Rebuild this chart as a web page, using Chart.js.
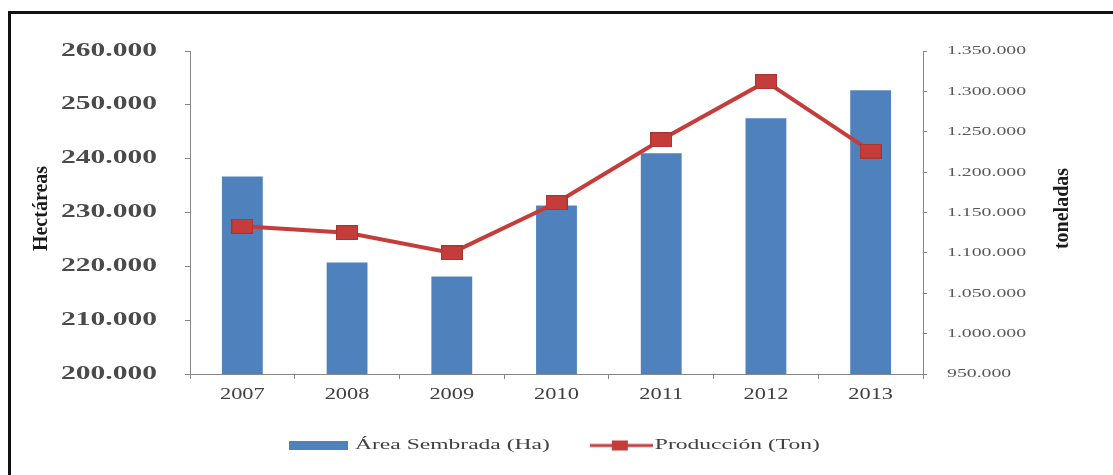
<!DOCTYPE html>
<html>
<head>
<meta charset="utf-8">
<script src="https://cdn.jsdelivr.net/npm/chart.js@4"></script>
<style>
	body { margin: 0; background: #fff; }
	#wrap { position: relative; width: 1113px; height: 475px; overflow: hidden; }
	#frame { position: absolute; left: 8px; top: 11px; width: 1200px; height: 600px;
		border-left: 3px solid #111; border-top: 3px solid #111; pointer-events: none; }
</style>
</head>
<body>
<div id="wrap">
	<canvas id="chart"></canvas>
	<div id="frame"></div>
</div>
<script>
const years = ['2007', '2008', '2009', '2010', '2011', '2012', '2013']
const areaHa = [236700, 220700, 218100, 231300, 241000, 247500, 252700]
const produccionTon = [1133000, 1125000, 1100000, 1162000, 1240000, 1312000, 1226000]
const areaTicks = ['200.000', '210.000', '220.000', '230.000', '240.000', '250.000', '260.000']
const tonTicks = ['950.000', '1.000.000', '1.050.000', '1.100.000', '1.150.000',
	'1.200.000', '1.250.000', '1.300.000', '1.350.000']

const BLUE = '#4f81bd'
const RED = '#c43d3a'
const AXIS = '#868686'
const SERIF = "'Liberation Serif', 'Times New Roman', serif"

// text in the reference is stretched sideways; factor by font size
const stretchBySize = { 18: 1.64, 13: 1.52, 16: 1.4, 15: 1.57 }

function stretchText(ctx) {
	const fill = ctx.fillText.bind(ctx)
	const measure = ctx.measureText.bind(ctx)
	const factor = () => {
		const m = /(\d+(?:\.\d+)?)px/.exec(ctx.font)
		return (m && stretchBySize[m[1]]) || 1
	}
	ctx.fillText = (text, x, y) => {
		const k = factor()
		if (k === 1) return fill(text, x, y)
		ctx.save()
		ctx.scale(k, 1)
		fill(text, x / k, y)
		ctx.restore()
	}
	ctx.measureText = text => {
		const m = measure(text)
		const k = factor()
		if (k === 1) return m
		return {
			width: m.width * k,
			actualBoundingBoxAscent: m.actualBoundingBoxAscent,
			actualBoundingBoxDescent: m.actualBoundingBoxDescent,
		}
	}
}

function swatch(w, h, paint) {
	const c = document.createElement('canvas')
	c.width = w
	c.height = h
	paint(c.getContext('2d'))
	return c
}
const marker = swatch(22, 15, ctx => {
	ctx.fillStyle = RED
	ctx.fillRect(0, 0, 22, 15)
	ctx.strokeStyle = '#a83330'
	ctx.strokeRect(0.5, 0.5, 21, 14)
})
const blueBox = swatch(61, 9, ctx => { ctx.fillStyle = BLUE; ctx.fillRect(2, 0, 59, 9) })
const redLine = swatch(71, 12, ctx => {
	ctx.fillStyle = RED
	ctx.fillRect(8, 4.5, 63, 3)
	ctx.fillRect(30, 1, 16, 10)
})

const LEGEND_PAD = 37.5

const extras = {
	id: 'extras',
	afterLayout(chart) {
		// legend sits left of centre in the reference
		const lg = chart.legend
		const w = lg.right - lg.left
		lg.left = 287.5 - LEGEND_PAD
		lg.right = lg.left + w
		lg.top = 438 - LEGEND_PAD
		lg.bottom = chart.height
	},
	afterDraw(chart) {
		const ctx = chart.ctx
		const a = chart.chartArea
		const cy = (a.top + a.bottom) / 2 - 4
		const put = (text, x) => {
			ctx.save()
			ctx.translate(x, cy)
			ctx.rotate(-Math.PI / 2)
			ctx.font = 'bold 20px ' + SERIF
			ctx.fillStyle = '#1a1a1a'
			ctx.textAlign = 'center'
			ctx.textBaseline = 'middle'
			ctx.fillText(text, 0, 0)
			ctx.restore()
		}
		put('Hectáreas', chart.scales.y.left + 42)
		put('toneladas', chart.scales.y1.right - 50)
	}
}

const canvas = document.getElementById('chart')
stretchText(canvas.getContext('2d'))

new Chart(canvas, {
	data: {
		labels: years,
		datasets: [{
			type: 'bar',
			label: 'Área Sembrada (Ha)',
			data: areaHa,
			backgroundColor: BLUE,
			barPercentage: 0.39,
			categoryPercentage: 1,
			yAxisID: 'y',
			order: 2,
		}, {
			type: 'line',
			label: 'Producción (Ton)',
			data: produccionTon,
			borderColor: RED,
			borderWidth: 4,
			pointStyle: marker,
			yAxisID: 'y1',
			order: 1,
		}],
	},
	options: {
		animation: false,
		responsive: true,
		maintainAspectRatio: false,
		layout: { padding: { top: 51, bottom: 16, left: 0, right: 0 } },
		plugins: {
			tooltip: { enabled: false },
			legend: {
				position: 'bottom',
				align: 'start',
				maxHeight: 45,
				labels: {
					usePointStyle: true,
					pointStyleWidth: 60,
					boxHeight: 10,
					padding: LEGEND_PAD,
					color: '#404040',
					font: { family: SERIF, size: 15 },
					sort: (a, b) => a.datasetIndex - b.datasetIndex,
					generateLabels(chart) {
						const items = Chart.defaults.plugins.legend.labels.generateLabels(chart)
						items.forEach(it => { it.pointStyle = it.datasetIndex === 0 ? blueBox : redLine })
						return items
					},
				},
			},
		},
		scales: {
			x: {
				grid: { drawOnChartArea: false, tickLength: 5, color: AXIS },
				border: { color: AXIS },
				ticks: { color: '#404040', padding: 6, font: { family: SERIF, size: 16 } },
				afterFit: s => { s.height = 40 },
			},
			y: {
				position: 'left',
				min: 200000,
				max: 260000,
				grid: { drawOnChartArea: false, tickLength: 5, color: AXIS },
				border: { color: AXIS },
				ticks: {
					stepSize: 10000,
					padding: 28,
					color: '#4a4a4a',
					font: { family: SERIF, size: 18, weight: 'bold' },
					callback: (v, i) => areaTicks[i],
				},
				afterFit: s => { s.width = 190 },
			},
			y1: {
				position: 'right',
				min: 950000,
				max: 1350000,
				grid: { drawOnChartArea: false, tickLength: 4, color: AXIS },
				border: { color: AXIS },
				ticks: {
					stepSize: 50000,
					padding: 20,
					color: '#595959',
					font: { family: SERIF, size: 13 },
					callback: (v, i) => tonTicks[i],
				},
				afterFit: s => { s.width = 190 },
			},
		},
	},
	plugins: [extras],
})
</script>
</body>
</html>
